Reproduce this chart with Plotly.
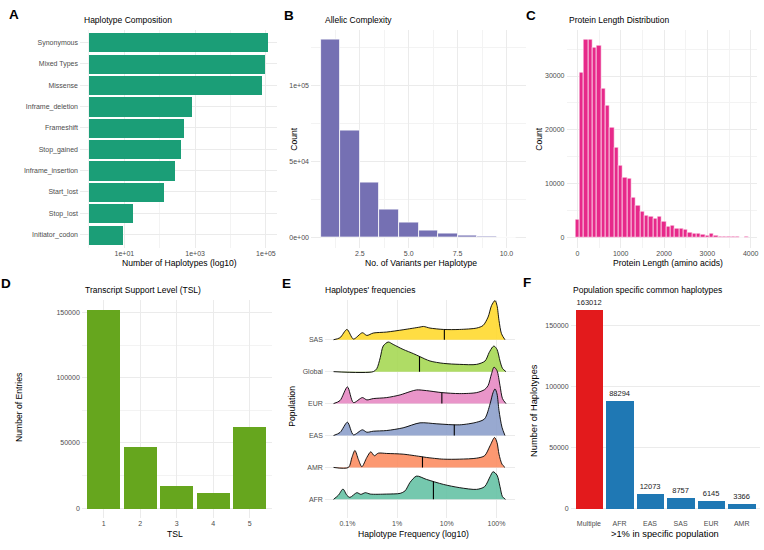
import numpy as np
import plotly.graph_objects as go

W, H = 764, 550
FONT = "Liberation Sans, Arial, sans-serif"

# ---------------- DATA ----------------
# A: Haplotype composition
hap_types = ["Synonymous", "Mixed Types", "Missense", "Inframe_deletion", "Frameshift",
             "Stop_gained", "Inframe_insertion", "Start_lost", "Stop_lost", "Initiator_codon"]
hap_counts = [115000, 95000, 77000, 800, 470, 400, 265, 130, 18, 9]

# B: Allelic complexity
n_variants = [1, 2, 3, 4, 5, 6, 7, 8, 9, 10]
variant_counts = [130000, 70100, 35900, 18400, 9600, 4800, 2600, 1500, 700, 300]

# C: Protein length distribution (bin centres, width 100 aa)
protein_len_bins = list(range(0, 4000, 100))
protein_len_counts = [3400, 30700, 36800, 36800, 35300, 35650, 27600, 24500, 20500, 16700,
                      13350, 11200, 11000, 7500, 5900, 4850, 4150, 3950, 3500, 3900,
                      2900, 2100, 2300, 1700, 1670, 1540, 930, 740, 680, 500,
                      430, 680, 310, 250, 250, 185, 185, 120, 40, 250]

# D: Transcript support level
tsl_levels = [1, 2, 3, 4, 5]
tsl_counts = [152500, 46900, 17150, 12000, 62300]

# E: Haplotype frequency densities (x = log10 frequency, density in arbitrary units)
populations = ["AFR", "AMR", "EAS", "EUR", "Global", "SAS"]
afr_log10 = [-3.28, -3.18, -3.09, -3.01, -2.95, -2.81, -2.73, -2.64, -2.54, -2.21, -1.94, -1.84,
             -1.74, -1.61, -1.41, -1.07, -0.74, -0.40, -0.24, -0.13, -0.07, 0.01, 0.07, 0.12, 0.18]
afr_density = [0, 4.3, 10.3, 4, 2, 6.7, 5, 6.7, 5.3, 5.3, 6, 8.5,
               17, 23.3, 20, 15, 11.7, 10, 12.7, 22.7, 27.7, 24.3, 12.7, 2.7, 0]
amr_log10 = [-3.28, -2.98, -2.91, -2.85, -2.78, -2.71, -2.61, -2.53, -2.46, -2.38, -2.21, -1.88,
             -1.54, -1.41, -1.07, -0.74, -0.40, -0.24, -0.13, -0.04, 0.01, 0.05, 0.11, 0.17]
amr_density = [0, 0, 10, 17, 8, 0.7, 10, 15.7, 11.7, 14.3, 14, 13.3,
               11, 10, 8.3, 8.3, 9.3, 11.7, 21.7, 30, 25, 13.3, 3.3, 0]
eas_log10 = [-3.28, -3.15, -3.00, -2.88, -2.70, -2.61, -2.48, -2.21, -1.88, -1.54, -1.20, -0.74,
             -0.40, -0.24, -0.13, -0.07, -0.03, 0.01, 0.05, 0.11, 0.17]
eas_density = [0, 3, 13.3, 0.7, 5.7, 3.3, 4.3, 5, 7.7, 12.7, 11.7, 10.7,
               13.3, 16.7, 31.7, 43, 46.7, 41.7, 25, 8.3, 0]
eur_log10 = [-3.28, -3.15, -3.00, -2.88, -2.70, -2.61, -2.48, -2.21, -1.94, -1.74, -1.61, -1.41,
             -1.10, -0.74, -0.40, -0.24, -0.17, -0.10, -0.05, 0.01, 0.07, 0.12, 0.19]
eur_density = [0, 3, 16.7, 1, 6, 3.7, 5, 6, 8.7, 12, 13.7, 13,
               11, 10, 11, 14, 18, 30, 36.5, 33, 18, 5, 0]
global_log10 = [-3.28, -2.48, -2.41, -2.34, -2.28, -2.18, -2.08, -1.88, -1.67, -1.54, -1.34, -1.07,
                -0.74, -0.40, -0.23, -0.15, -0.08, -0.05, 0.01, 0.07, 0.12, 0.19]
global_density = [0, 0, 3, 14, 25.7, 29.7, 27.3, 22.3, 18, 15, 10.7, 8.3,
                  7.3, 7.3, 10.7, 19, 24.7, 25.7, 22.3, 10.7, 3.3, 0]
sas_log10 = [-3.28, -3.15, -3.01, -2.88, -2.70, -2.61, -2.48, -2.21, -1.88, -1.54, -1.47, -1.34,
             -1.07, -0.74, -0.40, -0.27, -0.17, -0.10, -0.03, 0.01, 0.05, 0.10, 0.17]
sas_density = [0, 2, 10.3, 0.7, 7, 4.3, 6.7, 7.7, 10, 12.7, 13.3, 11.7,
               10.3, 10.3, 11.7, 14.3, 22.7, 34.3, 39.3, 34.3, 19.3, 6, 0]
median_log10 = [-1.27, -1.49, -0.85, -1.10, -1.55, -1.05]   # AFR, AMR, EAS, EUR, Global, SAS

# F: Population-specific common haplotypes
spec_groups = ["Multiple", "AFR", "EAS", "SAS", "EUR", "AMR"]
spec_counts = [163012, 88294, 12073, 8757, 6145, 3366]

# ---------------- STYLE ----------------
GRID = "#ebebeb"
MINOR = "#f3f3f3"
TICKFONT = dict(size=7, color="#4d4d4d", family=FONT)


def dom_x(a, b):
    return [a / W, b / W]


def dom_y(top, bottom):
    return [1 - bottom / H, 1 - top / H]


def axis(domain, anchor, rng, **kw):
    d = dict(domain=domain, anchor=anchor, range=rng, showline=False, zeroline=False,
             ticks="", tickfont=TICKFONT, showgrid=True, gridcolor=GRID, gridwidth=0.8,
             fixedrange=True)
    d.update(kw)
    return d


def minor(vals):
    return dict(tickvals=vals, showgrid=True, gridcolor=MINOR, gridwidth=0.5, ticks="")


TOP = (29.5, 247.5)
BOT = (299.5, 518.0)
XSO = 0   # x tick label standoff
YSO = 1   # y tick label standoff

fig = go.Figure()

# ---- A ----
fig.add_trace(go.Bar(orientation="h", y=hap_types, x=[v - 1 for v in hap_counts], base=1,
                     width=0.9, marker=dict(color="#1b9e77", line=dict(width=0)),
                     xaxis="x", yaxis="y", showlegend=False))

# ---- B ----
fig.add_trace(go.Bar(x=n_variants, y=variant_counts, width=1,
                     marker=dict(color="#7570b3", line=dict(color="white", width=0.8)),
                     xaxis="x2", yaxis="y2", showlegend=False))

# ---- C ----
fig.add_trace(go.Bar(x=protein_len_bins, y=protein_len_counts, width=100,
                     marker=dict(color="#e7298a", line=dict(color="white", width=0.6)),
                     xaxis="x3", yaxis="y3", showlegend=False))

# ---- D ----
fig.add_trace(go.Bar(x=tsl_levels, y=tsl_counts, width=0.9,
                     marker=dict(color="#66a61e", line=dict(width=0)),
                     xaxis="x4", yaxis="y4", showlegend=False))

# ---- E (ridgelines) ----
ridge_x = [afr_log10, amr_log10, eas_log10, eur_log10, global_log10, sas_log10]
ridge_d = [afr_density, amr_density, eas_density, eur_density, global_density, sas_density]
ridge_fill = ["rgba(102,194,165,0.9)", "rgba(252,141,98,0.9)", "rgba(141,160,203,0.9)",
              "rgba(231,138,195,0.9)", "rgba(166,216,84,0.9)", "rgba(255,217,47,0.9)"]
scale = 1 / 32.0
for i in reversed(range(len(populations))):
    lx = np.array(ridge_x[i])
    dd = np.array(ridge_d[i])
    xs = 10 ** lx
    fig.add_trace(go.Scatter(x=[xs[0], xs[-1]], y=[i, i], mode="lines",
                             line=dict(width=0, color="rgba(0,0,0,0)"),
                             xaxis="x5", yaxis="y5", showlegend=False, hoverinfo="skip"))
    fig.add_trace(go.Scatter(x=xs, y=i + dd * scale, mode="lines",
                             line=dict(color="black", width=0.9, shape="spline", smoothing=0.8),
                             fill="tonexty", fillcolor=ridge_fill[i],
                             xaxis="x5", yaxis="y5", showlegend=False))
    m = median_log10[i]
    hm = float(np.interp(m, lx, dd))
    fig.add_trace(go.Scatter(x=[10 ** m, 10 ** m], y=[i, i + hm * scale], mode="lines",
                             line=dict(color="black", width=1.1),
                             xaxis="x5", yaxis="y5", showlegend=False))

# ---- F ----
fig.add_trace(go.Bar(x=list(range(len(spec_groups))), y=spec_counts, width=0.9,
                     marker=dict(color=["#e31a1c"] + ["#1f78b4"] * (len(spec_groups) - 1),
                                 line=dict(width=0)),
                     text=[str(v) for v in spec_counts], textposition="outside",
                     textfont=dict(size=7.5, color="#1a1a1a", family=FONT),
                     cliponaxis=False, xaxis="x6", yaxis="y6", showlegend=False))

# ---------------- AXES ----------------
lay = dict(
    width=W, height=H, margin=dict(l=0, r=0, t=0, b=0),
    paper_bgcolor="white", plot_bgcolor="white", showlegend=False,
    font=dict(family=FONT), bargap=0,
)

lay["xaxis"] = axis(dom_x(80, 277), "y", [-0.253, 5.313], type="log",
                    tickvals=[10, 1000, 100000], ticktext=["1e+01", "1e+03", "1e+05"],
                    minor=minor([1, 100, 10000]), ticklabelstandoff=XSO)
lay["yaxis"] = axis(dom_y(*TOP), "x", [9.6, -0.6], type="category",
                    categoryorder="array", categoryarray=hap_types, ticklabelstandoff=YSO)

lay["xaxis2"] = axis(dom_x(311, 526), "y2", [0, 11],
                     tickvals=[2.5, 5, 7.5, 10], ticktext=["2.5", "5.0", "7.5", "10.0"],
                     minor=minor([1.25, 3.75, 6.25, 8.75]), ticklabelstandoff=XSO)
lay["yaxis2"] = axis(dom_y(*TOP), "x2", [-6500, 136500],
                     tickvals=[0, 50000, 100000], ticktext=["0e+00", "5e+04", "1e+05"],
                     minor=minor([25000, 75000, 125000]), ticklabelstandoff=YSO)

lay["xaxis3"] = axis(dom_x(566.5, 757.2), "y3", [-250, 4150],
                     tickvals=[0, 1000, 2000, 3000, 4000],
                     ticktext=["0", "1000", "2000", "3000", "4000"],
                     minor=minor([500, 1500, 2500, 3500]), ticklabelstandoff=XSO)
lay["yaxis3"] = axis(dom_y(*TOP), "x3", [-1840, 38640],
                     tickvals=[0, 10000, 20000, 30000],
                     ticktext=["0", "10000", "20000", "30000"],
                     minor=minor([5000, 15000, 25000, 35000]), ticklabelstandoff=YSO)

lay["xaxis4"] = axis(dom_x(81.8, 271.6), "y4", [0.4, 5.6],
                     tickvals=tsl_levels, ticktext=[str(t) for t in tsl_levels],
                     ticklabelstandoff=XSO)
lay["yaxis4"] = axis(dom_y(*BOT), "x4", [-7625, 160125],
                     tickvals=[0, 50000, 100000, 150000],
                     ticktext=["0", "50000", "100000", "150000"],
                     minor=minor([25000, 75000, 125000]), ticklabelstandoff=YSO)

lay["xaxis5"] = axis(dom_x(324.9, 515.1), "y5", [-3.454, 0.374], type="log",
                     tickvals=[0.001, 0.01, 0.1, 1], ticktext=["0.1%", "1%", "10%", "100%"],
                     ticklabelstandoff=XSO)
lay["yaxis5"] = axis(dom_y(*BOT), "x5", [-0.584, 6.26],
                     tickvals=list(range(len(populations))), ticktext=populations,
                     ticklabelstandoff=YSO)

lay["xaxis6"] = axis(dom_x(570.6, 760), "y6", [-0.6, 5.6], showgrid=False,
                     tickvals=list(range(len(spec_groups))), ticktext=spec_groups,
                     ticklabelstandoff=XSO)
lay["yaxis6"] = axis(dom_y(*BOT), "x6", [-8150, 171163],
                     tickvals=[0, 50000, 100000, 150000],
                     ticktext=["0", "50000", "100000", "150000"], ticklabelstandoff=YSO)


def ann(text, x, y, size, xanchor="left", angle=0, color="black"):
    return dict(text=text, x=x / W, y=1 - y / H, xref="paper", yref="paper",
                xanchor=xanchor, yanchor="middle", showarrow=False, textangle=angle,
                font=dict(size=size, color=color, family=FONT))


anns = []
# panel letters
for t, x, y in [("A", 14, 15), ("B", 289, 16), ("C", 530.5, 16),
                ("D", 6, 283), ("E", 286, 283), ("F", 527, 282)]:
    anns.append(ann("<b>" + t + "</b>", x, y, 13.5, xanchor="center"))
# panel titles
for t, x, y in [("Haplotype Composition", 81.7, 20.3), ("Allelic Complexity", 323.3, 20.3),
                ("Protein Length Distribution", 566.7, 20.3),
                ("Transcript Support Level (TSL)", 82.7, 290.3),
                ("Haplotypes' frequencies", 323.3, 290.3),
                ("Population specific common haplotypes", 571, 290.3)]:
    anns.append(ann(t, x, y, 8.5))
# axis titles
anns += [
    ann("Number of Haplotypes (log10)", 179, 263.5, 8.6, xanchor="center"),
    ann("No. of Variants per Haplotype", 420.5, 263.5, 8.6, xanchor="center"),
    ann("Count", 293.3, 138.5, 8.6, xanchor="center", angle=-90),
    ann("Protein Length (amino acids)", 668, 263.5, 8.6, xanchor="center"),
    ann("Count", 538.3, 138.5, 8.6, xanchor="center", angle=-90),
    ann("TSL", 175, 534, 8.6, xanchor="center"),
    ann("Number of Entries", 19, 408, 8.6, xanchor="center", angle=-90),
    ann("Haplotype Frequency (log10)", 413.3, 534, 8.6, xanchor="center"),
    ann("Population", 291.7, 406, 8.6, xanchor="center", angle=-90),
    ann(">1% in specific population", 665, 534, 9.3, xanchor="center"),
    ann("Number of Haplotypes", 534, 411, 9.3, xanchor="center", angle=-90),
]
lay["annotations"] = anns

fig.update_layout(**lay)
fig.write_html("out.html")
